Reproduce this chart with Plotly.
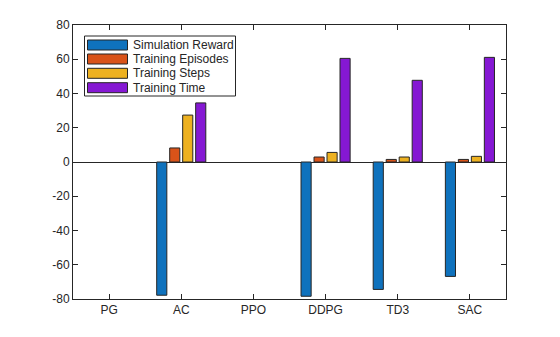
import plotly.graph_objects as go

categories = ["PG", "AC", "PPO", "DDPG", "TD3", "SAC"]
series_names = ["Simulation Reward", "Training Episodes", "Training Steps", "Training Time"]
sim_reward = [None, -77.8, None, -78.4, -74.4, -66.8]
train_episodes = [None, 8.2, None, 2.9, 1.5, 1.5]
train_steps = [None, 27.4, None, 5.6, 2.9, 3.3]
train_time = [None, 34.5, None, 60.5, 47.7, 61.1]
y_ticks = [-80, -60, -40, -20, 0, 20, 40, 60, 80]
y_tick_labels = ["-80", "-60", "-40", "-20", "0", "20", "40", "60", "80"]

colors = ["#0F72BD", "#D95319", "#EDB120", "#8518D3"]
series = [sim_reward, train_episodes, train_steps, train_time]

fig = go.Figure()
for name, vals, c in zip(series_names, series, colors):
    fig.add_trace(go.Bar(x=categories, y=vals, name=name, marker=dict(color=c, line=dict(color="#262626", width=1)),
                         showlegend=False))

W, H = 560, 337
L, R, T, B = 73, 54, 25, 38
pw, ph = W - L - R, H - T - B

def px(x):
    return (x - L) / pw

def py(y):
    return (H - B - y) / ph

shapes = []
annotations = []
# legend box
shapes.append(dict(type="rect", xref="paper", yref="paper", x0=px(84.5), x1=px(235.5), y0=py(96), y1=py(36),
                   line=dict(color="#262626", width=1), fillcolor="white", layer="above"))
row_y = [45, 59, 73.3, 87.7]
for name, c, yy in zip(series_names, colors, row_y):
    shapes.append(dict(type="rect", xref="paper", yref="paper", x0=px(87.5), x1=px(127.5), y0=py(yy + 5), y1=py(yy - 5),
                       line=dict(color="#262626", width=1), fillcolor=c, layer="above"))
    annotations.append(dict(text=name, xref="paper", yref="paper", x=px(131), y=py(yy), xanchor="left", yanchor="middle",
                            showarrow=False, font=dict(family="Liberation Sans, Arial", size=12, color="#262626")))

fig.update_layout(
    width=W, height=H, margin=dict(l=L, r=R, t=T, b=B),
    paper_bgcolor="white", plot_bgcolor="white",
    barmode="group", bargap=0.28, bargroupgap=0.22,
    font=dict(family="Liberation Sans, Arial", size=12, color="#262626"),
    shapes=shapes, annotations=annotations, showlegend=False,
)
fig.update_xaxes(type="category", categoryorder="array", categoryarray=categories, range=[-0.5, 5.5],
                 showline=True, linecolor="#262626", linewidth=1, mirror="allticks",
                 ticks="inside", ticklen=5, tickcolor="#262626", showgrid=False, zeroline=False,
                 tickfont=dict(size=12, color="#262626"))
fig.update_yaxes(range=[-80, 80], tickvals=y_ticks, ticktext=y_tick_labels, showline=True, linecolor="#262626",
                 linewidth=1, mirror="allticks",
                 ticks="inside", ticklen=5, tickcolor="#262626", showgrid=False,
                 zeroline=True, zerolinecolor="#262626", zerolinewidth=1,
                 tickfont=dict(size=12, color="#262626"))

fig.write_html("out.html")
